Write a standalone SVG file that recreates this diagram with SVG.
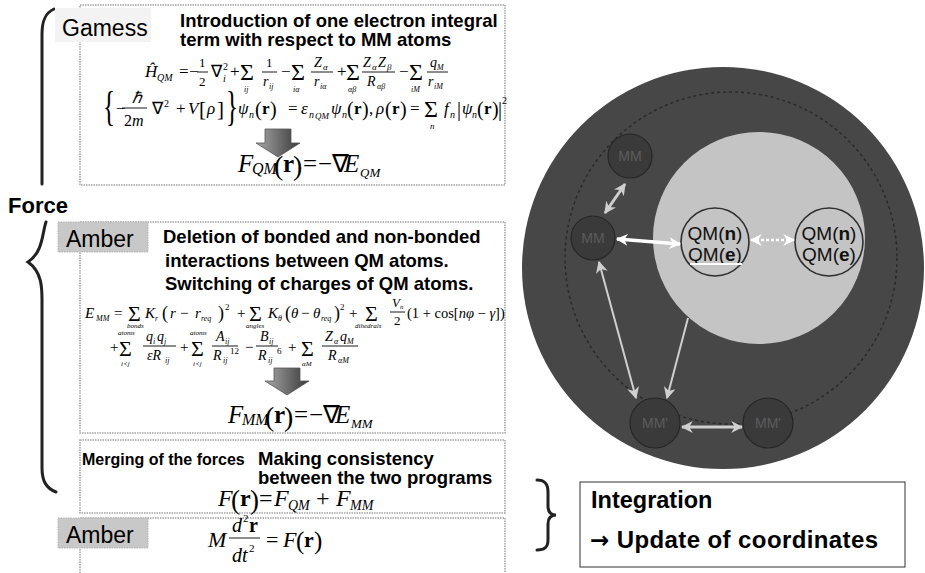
<svg xmlns="http://www.w3.org/2000/svg" width="925" height="573" viewBox="0 0 925 573">
<defs>
<style>
.s{font-family:"Liberation Sans",Arial,sans-serif;}
.b{font-weight:bold;}
.m{font-family:"Liberation Serif","Times New Roman",serif;}
.i{font-style:italic;}
.bx{fill:none;stroke:#a2a2a2;stroke-width:1.5;stroke-dasharray:1.5 1;}
.lb{fill:#c8c8c8;stroke:#b4b4b4;stroke-width:1;stroke-dasharray:1.5 1;}
.bar{stroke:#000;stroke-width:0.9;}
.br{fill:none;stroke:#222;stroke-width:3;stroke-linecap:round;}
.ba{fill:url(#ag);stroke:#555;stroke-width:0.8;}
.mm{fill:#3a3a3a;stroke:#262626;stroke-width:1.2;}
.mmt{fill:#5c5c5c;font-size:14px;text-anchor:middle;}
.qm{fill:#c4c4c4;stroke:#2e2e2e;stroke-width:1.6;}
.qmt{fill:#111;font-size:19px;text-anchor:middle;}
</style>
<linearGradient id="ag" x1="0" y1="0" x2="1" y2="0">
<stop offset="0" stop-color="#a8a8a8"/><stop offset="0.5" stop-color="#707070"/><stop offset="1" stop-color="#383838"/>
</linearGradient>
<marker id="mw" viewBox="0 0 10 10" refX="9" refY="5" markerWidth="12" markerHeight="12" markerUnits="userSpaceOnUse" orient="auto-start-reverse">
<path d="M0,0 L10,5 L0,10 L3,5 z" fill="#ffffff"/>
</marker>
<marker id="mg" viewBox="0 0 10 10" refX="9" refY="5" markerWidth="12" markerHeight="12" markerUnits="userSpaceOnUse" orient="auto-start-reverse">
<path d="M0,0 L10,5 L0,10 L3,5 z" fill="#cfcfcf"/>
</marker>
</defs>
<rect width="925" height="573" fill="#ffffff"/>

<!-- Force brace -->
<g id="force-brace">
<path class="br" d="M54,9 C45,13 42,21 42,34 L42,184"/>
<path class="br" d="M46,222 C42,234 43,252 28,262 C42,272 42,288 42,300 L42,468 C42,481 46,488 56,492"/>
<text class="s b" x="8" y="213" font-size="22">Force</text>
</g>

<!-- Gamess box -->
<g id="gamess-box">
<rect class="bx" x="80" y="5" width="425" height="180"/>
<rect x="55" y="8" width="96" height="34" fill="#f3f3f3"/>
<text class="s" x="62" y="36" font-size="23">Gamess</text>
<text class="s b" x="180" y="27" font-size="18.5">Introduction of one electron integral</text>
<text class="s b" x="180" y="46" font-size="18.5">term with respect to MM atoms</text>
<g class="m" font-size="17">
<text x="145" y="77" class="i">Ĥ</text>
<text x="157" y="81" class="i" font-size="10">QM</text>
<text x="179" y="77">=</text>
<text x="189" y="77">−</text>
<text x="199" y="67" font-size="13">1</text>
<line class="bar" x1="197" y1="72" x2="208" y2="72"/>
<text x="199" y="86" font-size="13">2</text>
<text x="211" y="77">∇</text>
<text x="223" y="70" font-size="10">2</text>
<text x="223" y="82" font-size="10" class="i">i</text>
<text x="230" y="77">+</text>
<text x="240" y="80" font-size="24">Σ</text>
<text x="244" y="92" font-size="8" class="i">ij</text>
<text x="266" y="67" font-size="13">1</text>
<line class="bar" x1="262" y1="72" x2="277" y2="72"/>
<text x="263" y="86" font-size="14" class="i">r</text>
<text x="269" y="89" font-size="8" class="i">ij</text>
<text x="281" y="77">−</text>
<text x="291" y="80" font-size="24">Σ</text>
<text x="293" y="92" font-size="8" class="i">iα</text>
<text x="314" y="67" font-size="14" class="i">Z</text>
<text x="323" y="70" font-size="9" class="i">α</text>
<line class="bar" x1="311" y1="72" x2="333" y2="72"/>
<text x="314" y="86" font-size="14" class="i">r</text>
<text x="320" y="89" font-size="8" class="i">iα</text>
<text x="337" y="77">+</text>
<text x="346" y="80" font-size="24">Σ</text>
<text x="348" y="92" font-size="8" class="i">αβ</text>
<text x="363" y="67" font-size="14" class="i">Z</text>
<text x="372" y="70" font-size="9" class="i">α</text>
<text x="378" y="67" font-size="14" class="i">Z</text>
<text x="387" y="70" font-size="9" class="i">β</text>
<line class="bar" x1="362" y1="72" x2="395" y2="72"/>
<text x="367" y="86" font-size="14" class="i">R</text>
<text x="377" y="89" font-size="8" class="i">αβ</text>
<text x="399" y="77">−</text>
<text x="409" y="80" font-size="24">Σ</text>
<text x="411" y="92" font-size="8" class="i">iM</text>
<text x="430" y="67" font-size="14" class="i">q</text>
<text x="437" y="70" font-size="8" class="i">M</text>
<line class="bar" x1="427" y1="72" x2="448" y2="72"/>
<text x="428" y="86" font-size="14" class="i">r</text>
<text x="434" y="89" font-size="8" class="i">iM</text>
</g>
<g class="m" font-size="17">
<text transform="translate(103,120) scale(1,1.7)" font-size="25">{</text>
<text x="116" y="114">−</text>
<text x="132" y="103" font-size="16" class="i">ℏ</text>
<line class="bar" x1="122" y1="108" x2="147" y2="108"/>
<text x="124" y="126" font-size="16">2<tspan class="i">m</tspan></text>
<text x="152" y="114">∇</text>
<text x="164" y="107" font-size="10">2</text>
<text x="176" y="114">+</text>
<text x="188" y="114" class="i">V</text>
<text x="199" y="116" font-size="21">[</text>
<text x="207" y="114" class="i">ρ</text>
<text x="217" y="116" font-size="21">]</text>
<text transform="translate(226,120) scale(1,1.7)" font-size="25">}</text>
<text x="238" y="114" class="i">ψ</text>
<text x="249" y="118" font-size="10" class="i">n</text>
<text x="255" y="116" font-size="20">(</text>
<text x="262" y="114" font-weight="bold">r</text>
<text x="270" y="116" font-size="20">)</text>
<text x="288" y="114">=</text>
<text x="301" y="114" class="i">ε</text>
<text x="309" y="118" font-size="10" class="i">n</text>
<text x="315" y="119" font-size="9" class="i">QM</text>
<text x="331" y="114" class="i">ψ</text>
<text x="342" y="118" font-size="10" class="i">n</text>
<text x="347" y="116" font-size="20">(</text>
<text x="354" y="114" font-weight="bold">r</text>
<text x="362" y="116" font-size="20">)</text>
<text x="369" y="114">,</text>
<text x="376" y="114" class="i">ρ</text>
<text x="385" y="116" font-size="20">(</text>
<text x="392" y="114" font-weight="bold">r</text>
<text x="400" y="116" font-size="20">)</text>
<text x="410" y="114">=</text>
<text x="424" y="117" font-size="24">Σ</text>
<text x="430" y="129" font-size="9" class="i">n</text>
<text x="444" y="114" class="i">f</text>
<text x="450" y="118" font-size="10" class="i">n</text>
<text x="457" y="116" font-size="20">|</text>
<text x="462" y="114" class="i">ψ</text>
<text x="472" y="118" font-size="10" class="i">n</text>
<text x="477" y="116" font-size="20">(</text>
<text x="484" y="114" font-weight="bold">r</text>
<text x="492" y="116" font-size="20">)</text>
<text x="498" y="116" font-size="20">|</text>
<text x="502" y="104" font-size="10">2</text>
</g>
<path class="ba" d="M265,129 L291,129 L291,143 L300,143 L278,157 L256,143 L265,143 z"/>
<g class="m" font-size="25">
<text x="238" y="172" class="i">F</text>
<text x="252" y="174" font-size="16" class="i">QM</text>
<text x="274" y="175" font-size="28">(</text>
<text x="283" y="172" font-weight="bold">r</text>
<text x="293" y="175" font-size="28">)</text>
<text x="303" y="172">=</text>
<text x="318" y="172">−∇</text>
<text x="344" y="172" class="i">E</text>
<text x="360" y="177" font-size="13" class="i">QM</text>
</g>
</g>

<!-- Amber force box -->
<g id="amber-force-box">
<rect class="bx" x="80" y="222" width="425" height="211"/>
<rect class="lb" x="58" y="222" width="90" height="30"/>
<text class="s" x="66" y="247" font-size="23">Amber</text>
<text class="s b" x="163" y="243" font-size="18.5">Deletion of bonded and non-bonded</text>
<text class="s b" x="165" y="267" font-size="18.5">interactions between QM atoms.</text>
<text class="s b" x="165" y="290" font-size="18.5">Switching of charges of QM atoms.</text>
<g class="m" font-size="15">
<text x="85" y="318" class="i">E</text>
<text x="96" y="321" font-size="8" class="i">MM</text>
<text x="114" y="318">=</text>
<text x="128" y="321" font-size="22">Σ</text>
<text x="127" y="328" font-size="7" class="i">bonds</text>
<text x="145" y="318" class="i">K</text>
<text x="155" y="321" font-size="8" class="i">r</text>
<text x="162" y="319" font-size="18">(</text>
<text x="170" y="318" class="i">r</text>
<text x="180" y="318">−</text>
<text x="195" y="318" class="i">r</text>
<text x="201" y="321" font-size="8" class="i">req</text>
<text x="218" y="319" font-size="18">)</text>
<text x="225" y="310" font-size="9">2</text>
<text x="237" y="318">+</text>
<text x="249" y="321" font-size="22">Σ</text>
<text x="246" y="328" font-size="7" class="i">angles</text>
<text x="268" y="318" class="i">K</text>
<text x="278" y="321" font-size="8" class="i">θ</text>
<text x="285" y="319" font-size="18">(</text>
<text x="291" y="318" class="i">θ</text>
<text x="301" y="318">−</text>
<text x="313" y="318" class="i">θ</text>
<text x="321" y="321" font-size="8" class="i">req</text>
<text x="334" y="319" font-size="18">)</text>
<text x="340" y="310" font-size="9">2</text>
<text x="349" y="318">+</text>
<text x="365" y="321" font-size="22">Σ</text>
<text x="355" y="328" font-size="7" class="i">dihedrals</text>
<text x="392" y="307" font-size="13" class="i">V</text>
<text x="400" y="309" font-size="7" class="i">n</text>
<line class="bar" x1="390" y1="312" x2="405" y2="312"/>
<text x="394" y="325" font-size="13">2</text>
<text x="407" y="318" font-size="14.5">(1 + cos[<tspan class="i">nφ</tspan> − <tspan class="i">γ</tspan>])</text>
<text x="110" y="352">+</text>
<text x="119" y="356" font-size="22">Σ</text>
<text x="118" y="335" font-size="7" class="i">atoms</text>
<text x="121" y="366" font-size="7" class="i">i&lt;j</text>
<text x="146" y="341" font-size="14" class="i">q</text>
<text x="153" y="344" font-size="8" class="i">i</text>
<text x="157" y="341" font-size="14" class="i">q</text>
<text x="164" y="344" font-size="8" class="i">j</text>
<line class="bar" x1="143" y1="346" x2="176" y2="346"/>
<text x="147" y="360" font-size="14" class="i">εR</text>
<text x="165" y="363" font-size="8" class="i">ij</text>
<text x="180" y="352">+</text>
<text x="191" y="356" font-size="22">Σ</text>
<text x="190" y="335" font-size="7" class="i">atoms</text>
<text x="193" y="366" font-size="7" class="i">i&lt;j</text>
<text x="216" y="341" font-size="14" class="i">A</text>
<text x="225" y="344" font-size="8" class="i">ij</text>
<line class="bar" x1="212" y1="346" x2="238" y2="346"/>
<text x="213" y="360" font-size="14" class="i">R</text>
<text x="223" y="363" font-size="8" class="i">ij</text>
<text x="230" y="354" font-size="9">12</text>
<text x="245" y="352">−</text>
<text x="260" y="341" font-size="14" class="i">B</text>
<text x="269" y="344" font-size="8" class="i">ij</text>
<line class="bar" x1="256" y1="346" x2="278" y2="346"/>
<text x="258" y="360" font-size="14" class="i">R</text>
<text x="268" y="363" font-size="8" class="i">ij</text>
<text x="277" y="354" font-size="9">6</text>
<text x="288" y="352">+</text>
<text x="301" y="356" font-size="22">Σ</text>
<text x="302" y="366" font-size="7" class="i">αM</text>
<text x="325" y="341" font-size="14" class="i">Z</text>
<text x="334" y="344" font-size="8" class="i">α</text>
<text x="340" y="341" font-size="14" class="i">q</text>
<text x="347" y="344" font-size="8" class="i">M</text>
<line class="bar" x1="322" y1="346" x2="358" y2="346"/>
<text x="328" y="360" font-size="14" class="i">R</text>
<text x="338" y="363" font-size="8" class="i">αM</text>
</g>
<path class="ba" d="M274,368 L300,368 L300,381 L309,381 L287,395 L265,381 L274,381 z"/>
<g class="m" font-size="25">
<text x="228" y="423" class="i">F</text>
<text x="242" y="425" font-size="16" class="i">MM</text>
<text x="265" y="426" font-size="28">(</text>
<text x="274" y="423" font-weight="bold">r</text>
<text x="284" y="426" font-size="28">)</text>
<text x="294" y="423">=</text>
<text x="309" y="423">−∇</text>
<text x="335" y="423" class="i">E</text>
<text x="351" y="428" font-size="13" class="i">MM</text>
</g>
</g>

<!-- Merge box -->
<g id="merge-box">
<rect class="bx" x="80" y="440" width="425" height="73"/>
<text class="s b" x="82" y="465" font-size="16">Merging of the forces</text>
<text class="s b" x="258" y="465" font-size="18.5">Making consistency</text>
<text class="s b" x="258" y="484" font-size="18.5">between the two programs</text>
<g class="m" font-size="24">
<text x="218" y="506" class="i">F</text>
<text x="231" y="509" font-size="27">(</text>
<text x="240" y="506" font-weight="bold">r</text>
<text x="250" y="509" font-size="27">)</text>
<text x="259" y="506">=</text>
<text x="274" y="506" class="i">F</text>
<text x="288" y="510" font-size="14" class="i">QM</text>
<text x="316" y="506">+</text>
<text x="336" y="506" class="i">F</text>
<text x="350" y="510" font-size="14" class="i">MM</text>
</g>
</g>

<!-- Amber integration box -->
<g id="amber-integration-box">
<rect class="bx" x="80" y="518" width="425" height="60"/>
<rect class="lb" x="58" y="518" width="90" height="30"/>
<text class="s" x="66" y="543" font-size="23">Amber</text>
<g class="m" font-size="22">
<text x="208" y="547" class="i">M</text>
<text x="232" y="532" font-size="20" class="i">d</text>
<text x="243" y="522" font-size="11">2</text>
<text x="249" y="532" font-size="20" font-weight="bold">r</text>
<line class="bar" x1="229" y1="538" x2="260" y2="538"/>
<text x="232" y="562" font-size="20" class="i">dt</text>
<text x="249" y="552" font-size="11">2</text>
<text x="266" y="547">=</text>
<text x="283" y="547" class="i">F</text>
<text x="296" y="549" font-size="25">(</text>
<text x="304" y="547" font-weight="bold">r</text>
<text x="314" y="549" font-size="25">)</text>
</g>
</g>

<!-- Integration node -->
<g id="integration-node">
<path class="br" d="M537,480 C545,480 548,484 548,492 L548,506 C548,512 551,515 556,515 C551,515 548,518 548,524 L548,540 C548,547 545,550 537,550"/>
<rect x="580" y="482" width="325" height="85" fill="#fff" stroke="#333" stroke-width="1"/>
<text class="s b" x="591" y="508" font-size="23.5">Integration</text>
<text class="s b" x="590" y="548" font-size="24" letter-spacing="0.4"><tspan font-family="'DejaVu Sans',sans-serif" font-size="23">→</tspan> Update of coordinates</text>
</g>

<!-- QM/MM region diagram -->
<g id="region">
<circle cx="723" cy="268" r="201" fill="#474747"/>
<circle cx="731" cy="258" r="166" fill="none" stroke="#2a2a2a" stroke-width="1.5" stroke-dasharray="3 3"/>
<circle cx="759" cy="238" r="106" fill="#c4c4c4"/>
</g>
<g id="mm-top"><circle class="mm" cx="630" cy="156" r="22"/><text class="s mmt" x="630" y="161">MM</text></g>
<g id="mm-left"><circle class="mm" cx="593" cy="238" r="22"/><text class="s mmt" x="593" y="243">MM</text></g>
<g id="mm-bottom-left"><circle class="mm" cx="655" cy="423" r="25"/><text class="s mmt" x="655" y="428">MM'</text></g>
<g id="mm-bottom-right"><circle class="mm" cx="768" cy="423" r="25"/><text class="s mmt" x="768" y="428">MM'</text></g>
<g id="qm-1"><circle class="qm" cx="715" cy="242" r="34"/>
<text class="s qmt" x="715" y="240">QM(<tspan font-weight="bold">n</tspan>)</text>
<text class="s qmt" x="715" y="261">QM(<tspan font-weight="bold">e</tspan>)</text></g>
<g id="qm-2"><circle class="qm" cx="829" cy="242" r="34"/>
<text class="s qmt" x="829" y="240">QM(<tspan font-weight="bold">n</tspan>)</text>
<text class="s qmt" x="829" y="261">QM(<tspan font-weight="bold">e</tspan>)</text></g>

<g id="connectors" fill="none">
<line x1="605" y1="213" x2="625" y2="184" stroke="#cfcfcf" stroke-width="3" marker-start="url(#mg)" marker-end="url(#mg)"/>
<line x1="617" y1="239" x2="680" y2="244" stroke="#ffffff" stroke-width="3.5" marker-start="url(#mw)" marker-end="url(#mw)"/>
<line x1="690" y1="264" x2="742" y2="264" stroke="#ffffff" stroke-width="2"/>
<line x1="751" y1="240" x2="794" y2="240" stroke="#ffffff" stroke-width="2.5" stroke-dasharray="3 2" marker-start="url(#mw)" marker-end="url(#mw)"/>
<line x1="599" y1="262" x2="636" y2="398" stroke="#cfcfcf" stroke-width="2" marker-start="url(#mg)" marker-end="url(#mg)"/>
<line x1="688" y1="318" x2="667" y2="398" stroke="#cfcfcf" stroke-width="2" marker-end="url(#mg)"/>
<line x1="682" y1="427" x2="742" y2="427" stroke="#cfcfcf" stroke-width="3" marker-start="url(#mg)" marker-end="url(#mg)"/>
</g>
</svg>
